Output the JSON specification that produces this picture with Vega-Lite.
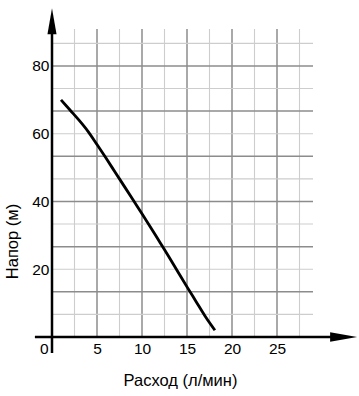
{
  "$schema": "https://vega.github.io/schema/vega-lite/v6.json",
  "width": 261,
  "height": 308,
  "autosize": "none",
  "padding": {"left": 52, "top": 29, "right": 46, "bottom": 59},
  "background": "white",
  "config": {"view": {"stroke": null}, "font": "Liberation Sans"},
  "datasets": {
    "vgrid": [
      {"x": 2.5, "kind": "minor"}, {"x": 5, "kind": "major"}, {"x": 7.5, "kind": "minor"},
      {"x": 10, "kind": "major"}, {"x": 12.5, "kind": "minor"}, {"x": 15, "kind": "major"},
      {"x": 17.5, "kind": "minor"}, {"x": 20, "kind": "major"}, {"x": 22.5, "kind": "minor"},
      {"x": 25, "kind": "major"}, {"x": 27.5, "kind": "minor"}
    ],
    "hgrid": [
      {"y": 6.667, "kind": "minor"}, {"y": 13.333, "kind": "major"}, {"y": 20, "kind": "minor"},
      {"y": 26.667, "kind": "major"}, {"y": 33.333, "kind": "minor"}, {"y": 40, "kind": "major"},
      {"y": 46.667, "kind": "minor"}, {"y": 53.333, "kind": "major"}, {"y": 60, "kind": "minor"},
      {"y": 66.667, "kind": "major"}, {"y": 73.333, "kind": "minor"}, {"y": 80, "kind": "major"},
      {"y": 86.667, "kind": "minor"}
    ],
    "curve": [
      {"flow": 1, "head": 70}, {"flow": 2, "head": 67}, {"flow": 3, "head": 64},
      {"flow": 4, "head": 60.7}, {"flow": 5, "head": 56.8}, {"flow": 6, "head": 52.8},
      {"flow": 7, "head": 48.7}, {"flow": 8, "head": 44.6}, {"flow": 9, "head": 40.5},
      {"flow": 10, "head": 36.4}, {"flow": 11, "head": 32.2}, {"flow": 12, "head": 27.9},
      {"flow": 13, "head": 23.6}, {"flow": 14, "head": 19.2}, {"flow": 15, "head": 14.8},
      {"flow": 16, "head": 10.5}, {"flow": 17, "head": 6.2}, {"flow": 18.1, "head": 2}
    ],
    "one": [{}]
  },
  "layer": [
    {
      "data": {"name": "vgrid"},
      "mark": {"type": "rule"},
      "encoding": {
        "x": {
          "field": "x", "type": "quantitative", "scale": {"domain": [0, 29], "nice": false, "zero": false},
          "axis": {
            "values": [0, 5, 10, 15, 20, 25], "domain": false, "ticks": false, "tickSize": 0, "grid": false,
            "labelFontSize": 15.5, "labelColor": "black", "labelPadding": 4,
            "labelAlign": {"condition": {"test": "datum.value === 0", "value": "right"}, "value": "center"},
            "labelOffset": {"condition": {"test": "datum.value === 0", "value": -4}, "value": 0},
            "title": "Расход (л/мин)", "titleFontSize": 16.5, "titleFontWeight": "normal", "titleColor": "black",
            "titleX": 128, "titleY": 48, "titleBaseline": "alphabetic", "titleAlign": "center"
          }
        },
        "color": {"field": "kind", "type": "nominal", "scale": {"domain": ["major", "minor"], "range": ["#8c8c8c", "#cdcdcd"]}, "legend": null},
        "strokeWidth": {"field": "kind", "type": "nominal", "scale": {"domain": ["major", "minor"], "range": [1.5, 1.1]}, "legend": null}
      }
    },
    {
      "data": {"name": "hgrid"},
      "mark": {"type": "rule"},
      "encoding": {
        "y": {
          "field": "y", "type": "quantitative", "scale": {"domain": [0, 90.9], "nice": false, "zero": false},
          "axis": {
            "values": [20, 40, 60, 80], "domain": false, "ticks": false, "tickSize": 0, "grid": false,
            "labelFontSize": 15.5, "labelColor": "black", "labelPadding": 3,
            "title": "Напор (м)", "titleFontSize": 16.5, "titleFontWeight": "normal", "titleColor": "black",
            "titleX": -35, "titleY": 212, "titleAngle": -90, "titleBaseline": "alphabetic", "titleAlign": "center"
          }
        },
        "color": {"field": "kind", "type": "nominal", "scale": {"domain": ["major", "minor"], "range": ["#8c8c8c", "#cdcdcd"]}, "legend": null},
        "strokeWidth": {"field": "kind", "type": "nominal", "scale": {"domain": ["major", "minor"], "range": [1.5, 1.1]}, "legend": null}
      }
    },
    {
      "data": {"name": "curve"},
      "mark": {"type": "line", "color": "black", "strokeWidth": 2.8, "strokeCap": "butt", "interpolate": "monotone"},
      "encoding": {
        "x": {
          "field": "flow", "type": "quantitative",
          "scale": {"domain": [0, 29], "nice": false, "zero": false},
          "axis": {
            "values": [0, 5, 10, 15, 20, 25], "domain": false, "ticks": false, "tickSize": 0, "grid": false,
            "labelFontSize": 15.5, "labelColor": "black", "labelPadding": 4,
            "labelAlign": {"condition": {"test": "datum.value === 0", "value": "right"}, "value": "center"},
            "labelOffset": {"condition": {"test": "datum.value === 0", "value": -4}, "value": 0},
            "title": "Расход (л/мин)", "titleFontSize": 16.5, "titleFontWeight": "normal", "titleColor": "black",
            "titleX": 128, "titleY": 48, "titleBaseline": "alphabetic", "titleAlign": "center"
          }
        },
        "y": {
          "field": "head", "type": "quantitative",
          "scale": {"domain": [0, 90.9], "nice": false, "zero": false},
          "axis": {
            "values": [20, 40, 60, 80], "domain": false, "ticks": false, "tickSize": 0, "grid": false,
            "labelFontSize": 15.5, "labelColor": "black", "labelPadding": 3,
            "title": "Напор (м)", "titleFontSize": 16.5, "titleFontWeight": "normal", "titleColor": "black",
            "titleX": -35, "titleY": 212, "titleAngle": -90, "titleBaseline": "alphabetic", "titleAlign": "center"
          }
        }
      }
    },
    {
      "data": {"name": "one"},
      "mark": {"type": "rule", "color": "black", "strokeWidth": 2.5},
      "encoding": {
        "x": {"datum": -1.9, "type": "quantitative"},
        "x2": {"datum": 32},
        "y": {"datum": 0, "type": "quantitative"}
      }
    },
    {
      "data": {"name": "one"},
      "mark": {"type": "rule", "color": "black", "strokeWidth": 2.5},
      "encoding": {
        "x": {"datum": 0, "type": "quantitative"},
        "y": {"datum": -4.7, "type": "quantitative"},
        "y2": {"datum": 92}
      }
    },
    {
      "data": {"name": "one"},
      "mark": {"type": "point", "filled": true, "color": "black", "opacity": 1, "strokeWidth": 0, "shape": "M0,-1L0.35,1L-0.35,1Z", "size": 676},
      "encoding": {
        "x": {"datum": 0, "type": "quantitative"},
        "y": {"datum": 93.2, "type": "quantitative"}
      }
    },
    {
      "data": {"name": "one"},
      "mark": {"type": "point", "filled": true, "color": "black", "opacity": 1, "strokeWidth": 0, "shape": "M1,0L-1,-0.35L-1,0.35Z", "size": 729},
      "encoding": {
        "x": {"datum": 32.4, "type": "quantitative"},
        "y": {"datum": 0, "type": "quantitative"}
      }
    }
  ]
}
